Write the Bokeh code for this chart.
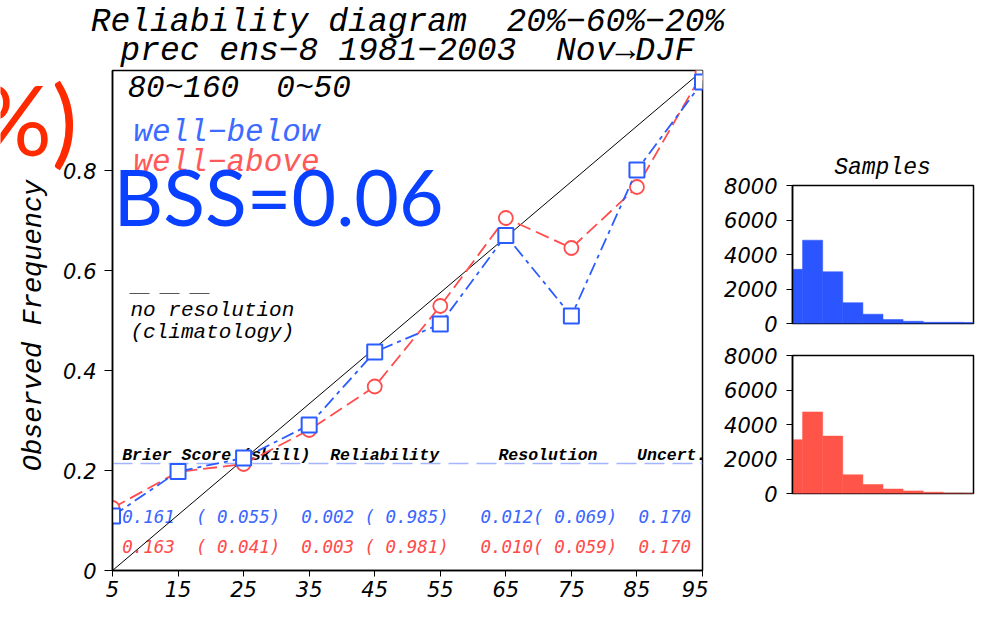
import numpy as np
from bokeh.plotting import figure
from bokeh.models import Label, FixedTicker, Range1d, GridBox
from bokeh.layouts import column, row
from bokeh.embed import file_html
from bokeh.resources import INLINE
from bokeh.core.properties import value

# ---------------- data ----------------
prob_bins = [5, 15, 25, 35, 45, 55, 65, 75, 85, 95]
below_obs = [0.109, 0.198, 0.225, 0.291, 0.437, 0.493, 0.670, 0.509, 0.801, 0.977]
above_obs = [0.125, 0.197, 0.213, 0.281, 0.368, 0.529, 0.705, 0.645, 0.767, 0.995]
below_samples = [3140, 4830, 3000, 1210, 540, 230, 130, 70, 70, 60]
above_samples = [3120, 4730, 3330, 1085, 520, 260, 150, 75, 20, 10]
climatology = 0.214
diag_x = [5, 95]
diag_y = [0, 1]

x_ticks = [5, 15, 25, 35, 45, 55, 65, 75, 85, 95]
y_ticks = [0, 0.2, 0.4, 0.6, 0.8]
y_tick_labels = ["0", "0.2", "0.4", "0.6", "0.8"]
hist_ticks = [0, 2000, 4000, 6000, 8000]

NB = "\u00a0"
title_1 = "Reliability diagram" + NB * 2 + "20%−60%−20%"
title_2 = "prec ens−8 1981−2003" + NB * 2 + "Nov→DJF"
region_text = "80~160" + NB * 2 + "0~50"
series_names = ["well−below", "well−above"]
score_header = ("Brier Score (skill)" + NB * 2 + "Reliability" + NB * 6 + "Resolution"
                + NB * 4 + "Uncert.")
below_scores = ("0.161" + NB * 2 + "(" + NB + "0.055)" + NB * 2 + "0.002" + NB + "(" + NB
                + "0.985)" + NB * 3 + "0.012(" + NB + "0.069)" + NB * 2 + "0.170")
above_scores = ("0.163" + NB * 2 + "(" + NB + "0.041)" + NB * 2 + "0.003" + NB + "(" + NB
                + "0.981)" + NB * 3 + "0.010(" + NB + "0.059)" + NB * 2 + "0.170")
bss_text = "BSS=0.06"
y_label = "Observed Frequency"
hist_title = "Samples"

BLUE = "#2b5cff"
RED = "#ff4d4d"
MONO = "Liberation Mono"

PAGE_W, PAGE_H = 986, 612

# ---------------- main reliability diagram ----------------
# frame on the page: x 112..702, y 70..570
def dx(px):
    return 5 + (px - 112) * 90.0 / 590.0

def dy(py):
    return (570 - py) / 500.0

p = figure(width=708, height=PAGE_H, x_range=Range1d(5, 95), y_range=Range1d(0, 1),
           output_backend="svg", toolbar_location=None, title=None,
           min_border_left=112, min_border_right=6, min_border_top=70, min_border_bottom=42)
p.xgrid.visible = False
p.ygrid.visible = False
p.outline_line_color = "black"
p.outline_line_width = 1.5

p.xaxis.ticker = FixedTicker(ticks=x_ticks)
p.yaxis.ticker = FixedTicker(ticks=y_ticks)
p.yaxis.major_label_overrides = {t: l for t, l in zip(y_ticks, y_tick_labels)}
for ax in (p.xaxis[0], p.yaxis[0]):
    ax.axis_line_color = "black"
    ax.axis_line_width = 1.5
    ax.major_tick_line_color = "black"
    ax.major_tick_in = 0
    ax.minor_tick_line_color = None
    ax.major_label_text_font = "DejaVu Sans"
    ax.major_label_text_font_style = "italic"
    ax.major_label_text_font_size = "21px"
    ax.major_label_text_color = "black"
p.yaxis.major_tick_out = 8
p.yaxis.major_label_standoff = 8
p.xaxis.major_tick_out = 6
p.xaxis.major_label_standoff = 4

# score table (under the curves)
p.text(x=[dx(121.7)], y=[dy(455)], text=[score_header], text_font=value(MONO),
       text_font_style="bold italic", text_font_size="16.5px", text_color="black",
       text_baseline="alphabetic", text_align="left")
p.text(x=[dx(121.7)], y=[dy(516)], text=[below_scores], text_font=value("DejaVu Sans Mono"),
       text_font_style="italic", text_font_size="17.5px", text_color="#3a66ff",
       text_baseline="alphabetic", text_align="left")
p.text(x=[dx(121.7)], y=[dy(546)], text=[above_scores], text_font=value("DejaVu Sans Mono"),
       text_font_style="italic", text_font_size="17.5px", text_color="#ff4a4a",
       text_baseline="alphabetic", text_align="left")

# climatology (no resolution) line
p.line(x=[x_ticks[0], x_ticks[-1]], y=[climatology, climatology], line_color="#a3b5ff",
       line_width=1.3, line_dash="20 8")
# perfect reliability diagonal
p.line(x=diag_x, y=diag_y, line_color="black", line_width=1)

# series
p.line(x=prob_bins, y=above_obs, line_color=RED, line_width=1.8, line_dash="14 6")
p.scatter(x=prob_bins, y=above_obs, marker="circle", size=14, line_color=RED,
          line_width=1.8, fill_color="white")
p.line(x=prob_bins, y=below_obs, line_color=BLUE, line_width=1.8, line_dash="13 5 4 5")
p.scatter(x=prob_bins, y=below_obs, marker="square", size=15, line_color=BLUE,
          line_width=2, fill_color="white")

# legend sample for "no resolution"
p.line(x=[dx(129), dx(215)], y=[dy(293), dy(293)], line_color="#555555",
       line_width=1.2, line_dash="20 10")

def lab(px, py, text, size, color="black", font=MONO, style="italic", align="left",
        baseline="alphabetic", angle=0):
    p.add_layout(Label(x=dx(px), y=dy(py), text=text, text_font=font,
                       text_font_style=style, text_font_size=size, text_color=color,
                       text_align=align, text_baseline=baseline, angle=angle))

lab(127, 88, region_text, "31px")
lab(133, 132, series_names[0], "31px", color="#3d6bff")
lab(133, 162, series_names[1], "31px", color="#ff5a5a")
lab(130, 310, "no resolution", "21px")
lab(130, 332, "(climatology)", "21px")
lab(113, 195, bss_text, "77px", color="#0a40ff", font="Lato", style="normal")

# ---------------- sample histograms ----------------
def hist(counts, color, height, top, bottom):
    h = figure(width=PAGE_W - 708, height=height, x_range=Range1d(5, 95),
               y_range=Range1d(0, 8000), output_backend="svg", toolbar_location=None,
               title=None, x_axis_location=None,
               min_border_left=84, min_border_right=PAGE_W - 708 - 84 - 181,
               min_border_top=top, min_border_bottom=bottom)
    h.xgrid.visible = False
    h.ygrid.visible = False
    h.outline_line_color = "black"
    h.outline_line_width = 1.5
    h.vbar(x=prob_bins, width=10, top=counts, bottom=0, fill_color=color,
           line_color=color, line_width=0.5)
    ax = h.yaxis[0]
    ax.ticker = FixedTicker(ticks=hist_ticks)
    ax.axis_line_color = "black"
    ax.axis_line_width = 1.5
    ax.major_tick_in = 0
    ax.major_tick_out = 6
    ax.minor_tick_line_color = None
    ax.major_label_standoff = 9
    ax.major_label_text_font = "DejaVu Sans"
    ax.major_label_text_font_style = "italic"
    ax.major_label_text_font_size = "21px"
    ax.major_label_text_color = "black"
    return h

h1 = hist(below_samples, "#2a55ff", 340, 185, 17)
h2 = hist(above_samples, "#ff5548", 178, 15, 25)

# ---------------- transparent overlay for texts outside the plot frames ----------------
ov = figure(width=PAGE_W, height=PAGE_H, x_range=Range1d(0, PAGE_W),
            y_range=Range1d(PAGE_H, 0), output_backend="svg", toolbar_location=None,
            title=None, x_axis_location=None, y_axis_location=None,
            min_border_left=0, min_border_right=0, min_border_top=0, min_border_bottom=0)
ov.xgrid.visible = False
ov.ygrid.visible = False
ov.outline_line_color = None
ov.background_fill_color = None
ov.border_fill_color = None

def otext(px, py, text, size, color="black", font=MONO, style="italic", align="left",
          baseline="alphabetic", angle=0):
    ov.text(x=[px], y=[py], text=[text], text_font=value(font), text_font_style=style,
            text_font_size=size, text_color=color, text_align=align,
            text_baseline=baseline, angle=angle)

otext(407, 22, title_1, "33px", align="center")
otext(407, 51, title_2, "33px", align="center")
otext(33, 325, y_label, "27px", align="center", baseline="middle", angle=np.pi / 2)
otext(77, 118, "%)", "96px", color="#ff2a00", font="Lato", style="normal", align="right")
otext(882, 167, hist_title, "23px", align="center")

layout = GridBox(children=[(row(p, column(h1, h2)), 0, 0), (column(ov), 0, 0)])
open("out.html", "w").write(file_html(layout, INLINE))
